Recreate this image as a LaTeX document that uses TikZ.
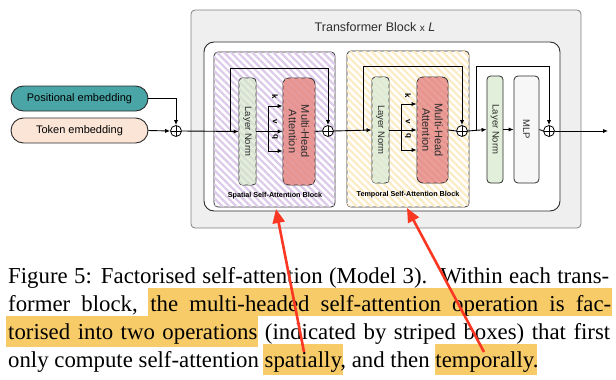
\documentclass[tikz,border=0pt]{standalone}
\usepackage{fontspec}
\setmainfont{Liberation Serif}
\newfontfamily\dsf{Liberation Sans}
\usetikzlibrary{arrows.meta,patterns.meta}
\definecolor{tealfill}{RGB}{74,165,166}
\definecolor{peach}{RGB}{251,229,214}
\definecolor{outerfill}{RGB}{239,239,239}
\definecolor{outerline}{RGB}{128,128,128}
\definecolor{lngreen}{RGB}{226,239,218}
\definecolor{mhared}{RGB}{232,148,145}
\definecolor{mlpgray}{RGB}{247,247,247}
\definecolor{purp}{RGB}{220,202,234}
\definecolor{yel}{RGB}{252,236,198}
\definecolor{hl}{RGB}{247,203,104}
\definecolor{redarrow}{RGB}{250,55,35}
\definecolor{darkline}{RGB}{45,45,45}
\tikzset{
  arr/.style={draw=black, line width=0.9pt, -{Latex[length=5pt,width=4.2pt]}},
  ln/.style={draw=black, line width=0.9pt},
  plusnode/.style={circle, draw=black, line width=0.8pt, fill=white, minimum size=11pt, inner sep=0pt,
    path picture={\draw[line width=0.7pt] (path picture bounding box.north) -- (path picture bounding box.south)
      (path picture bounding box.west) -- (path picture bounding box.east);}},
  embbox/.style={draw=darkline, line width=0.9pt, rounded corners=12.5pt, minimum width=137pt, minimum height=25pt, inner sep=0pt, font=\dsf\fontsize{11}{13}\selectfont},
  lnbox/.style={draw=darkline, line width=0.8pt, fill=lngreen, rounded corners=3.5pt, minimum width=17pt, inner sep=0pt},
  mhabox/.style={draw=darkline, line width=0.8pt, fill=mhared, rounded corners=6pt, minimum width=32pt, inner sep=0pt},
  mlpbox/.style={draw=darkline, line width=0.8pt, fill=mlpgray, rounded corners=4pt, minimum width=25pt, inner sep=0pt},
  rottext/.style={rotate=-90, font=\dsf\fontsize{9.5}{11}\selectfont, text=darkline, inner sep=0pt},
  mhatext/.style={rotate=-90, font=\dsf\fontsize{11}{12.5}\selectfont, text=darkline, align=center, inner sep=0pt},
  kvq/.style={rotate=-90, font=\dsf\bfseries\fontsize{8}{9}\selectfont, inner sep=0pt},
  blocklabel/.style={font=\dsf\bfseries\fontsize{7.2}{8}\selectfont, inner sep=0pt},
  capline/.style={anchor=base west, inner sep=0pt, font=\fontsize{22.8}{28}\selectfont},
  hlbox/.style={fill=hl},
  stripes/.style={pattern={Lines[angle=-45,distance=5pt,line width=2.2pt]}, pattern color=#1},
  redarr/.style={draw=redarrow, line width=2.6pt, -{Triangle[length=14pt,width=12pt]}},
}
\begin{document}
\begin{tikzpicture}[x=1pt,y=-1pt]
\useasboundingbox (0,0) rectangle (616,380);
% outer transformer block
\node[draw=outerline, fill=outerfill, line width=0.8pt, rounded corners=4pt, minimum width=390pt, minimum height=218pt, inner sep=0pt] (outer) at (386,119) {};
\node[font=\dsf\fontsize{12.5}{14}\selectfont, text=darkline] (title) at (375,27) {Transformer Block {\fontsize{10}{12}\selectfont x} \textit{L}};
\node[draw=darkline, fill=white, line width=0.9pt, rounded corners=10pt, minimum width=356pt, minimum height=169pt, inner sep=0pt] (inner) at (382,126.5) {};
% striped blocks
\node[draw=darkline, line width=0.8pt, rounded corners=4pt, fill=white, minimum width=121pt, minimum height=155pt, inner sep=0pt,
  postaction={stripes=purp}] (spat) at (274.5,129.5) {};
\node[draw=darkline, line width=0.8pt, rounded corners=4pt, fill=white, minimum width=122pt, minimum height=156pt, inner sep=0pt,
  postaction={stripes=yel}] (temp) at (408,129) {};
% embeddings
\node[embbox, fill=tealfill] (pos) at (79.5,98.5) {Positional embedding};
\node[embbox, fill=peach] (tok) at (79.5,130.5) {Token embedding};
% plus nodes
\node[plusnode] (p1) at (176,131) {};
\node[plusnode] (p2) at (328,131) {};
\node[plusnode] (p3) at (462,131) {};
\node[plusnode] (p4) at (549,131) {};
% spatial block content
\node[lnbox, minimum height=107pt, postaction={stripes=lngreen!82!purp!90!gray}] (ln1) at (247.5,131.5) {};
\node[mhabox, minimum height=107pt, postaction={stripes=mhared!88!purp}] (mha1) at (299,131.5) {};
\node[rottext] at (ln1) {Layer Norm};
\node[mhatext] at (mha1) {Multi-Head\\Attention};
\node[blocklabel] (spatlab) at (275,196) {Spatial Self-Attention Block};
% temporal block content
\node[lnbox, minimum height=106pt, postaction={stripes=lngreen!85!yel!95!gray}] (ln2) at (380.5,130) {};
\node[mhabox, minimum height=106pt, minimum width=31pt, postaction={stripes=mhared!88!yel}] (mha2) at (432.5,130) {};
\node[rottext] at (ln2) {Layer Norm};
\node[mhatext] at (mha2) {Multi-Head\\Attention};
\node[blocklabel] (templab) at (408,195) {Temporal Self-Attention Block};
% MLP part
\node[lnbox, minimum height=107pt, minimum width=16pt] (ln3) at (495,129.5) {};
\node[mlpbox, minimum height=107pt] (mlp) at (526.5,129.5) {};
\node[rottext] at (ln3) {Layer Norm};
\node[rottext] at (mlp) {MLP};
% coordinates
\coordinate (b1) at (230,131);
\coordinate (s1) at (230,68);
\coordinate (k1) at (268,106);
\coordinate (q1) at (268,151);
\coordinate (b2) at (363,131);
\coordinate (s2) at (363,66);
\coordinate (k2) at (401,104);
\coordinate (q2) at (401,150);
\coordinate (b3) at (476,131);
\coordinate (s3) at (476,66);
\coordinate (out) at (608,131);
% connectors
\draw[arr] (pos.east) -| (p1.north);
\draw[arr] (tok.east) -- (p1.west);
\draw[arr] (p1.east) -- (ln1.west);
\draw[arr] (b1) -- (s1) -| (p2.north);
\draw[arr] (ln1.east) -- (mha1.west);
\draw[ln] (k1) -- (q1);
\draw[arr] (k1) -- (mha1.west |- k1);
\draw[arr] (q1) -- (mha1.west |- q1);
\draw[ln] (mha1.east) -- (p2.west);
\draw[arr] (p2.east) -- (ln2.west);
\draw[arr] (b2) -- (s2) -| (p3.north);
\draw[arr] (ln2.east) -- (mha2.west);
\draw[ln] (k2) -- (q2);
\draw[arr] (k2) -- (mha2.west |- k2);
\draw[arr] (q2) -- (mha2.west |- q2);
\draw[ln] (mha2.east) -- (p3.west);
\draw[arr] (p3.east) -- (ln3.west);
\draw[arr] (b3) -- (s3) -| (p4.north);
\draw[arr] (ln3.east) -- (mlp.west);
\draw[ln] (mlp.east) -- (p4.west);
\draw[arr] (p4.east) -- (out);
% kvq labels
\node[kvq] (kl1) at (275,97) {k};
\node[kvq] (vl1) at (275,122) {v};
\node[kvq] (ql1) at (275,137) {q};
\node[kvq] (kl2) at (408,96) {k};
\node[kvq] (vl2) at (408,122) {v};
\node[kvq] (ql2) at (408,136) {q};
% caption highlights
\fill[hlbox] (148,288) rectangle (612,315.5);
\fill[hlbox] (6,315.5) rectangle (258,347);
\fill[hlbox] (263,344) rectangle (343,375);
\fill[hlbox] (435,344) rectangle (537,375);
% caption text
\node[capline] (c1) at (8,283.3) {\hbox to 601pt{Figure 5: Factorised self-attention (Model 3).\ \ Within each trans-}};
\node[capline] (c2) at (8,311.7) {\hbox to 603pt{former block, the multi-headed self-attention operation is fac-}};
\node[capline] (c3) at (8,339.3) {\hbox to 602pt{torised into two operations (indicated by striped boxes) that first}};
\node[capline] (c4) at (8,367.3) {only compute self-attention spatially, and then temporally.};
% red arrows
\coordinate (rt1) at (304,352);
\coordinate (rh1) at (276,209);
\coordinate (rt2) at (484,352);
\coordinate (rh2) at (407,208);
\draw[redarr] (rt1) -- (rh1);
\draw[redarr] (rt2) -- (rh2);
\end{tikzpicture}
\end{document}
